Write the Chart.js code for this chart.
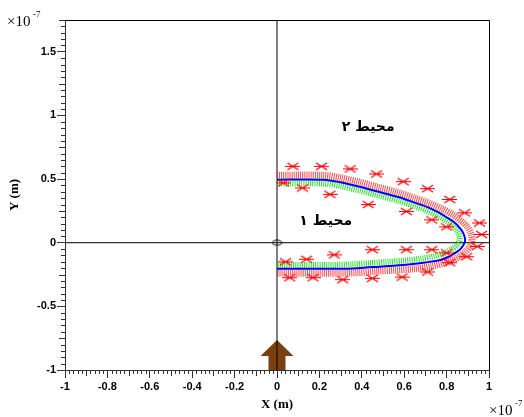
<!DOCTYPE html>
<html>
<head>
<meta charset="utf-8">
<script src="https://cdn.jsdelivr.net/npm/chart.js@4.4.1/dist/chart.umd.min.js"></script>
<style>
  html, body { margin: 0; padding: 0; background: #fff; }
</style>
</head>
<body>
<canvas id="chart" width="524" height="417"></canvas>
<script>
// axes
const xTicks = [-1, -0.8, -0.6, -0.4, -0.2, 0, 0.2, 0.4, 0.6, 0.8, 1];
const yTicks = [-1, -0.5, 0, 0.5, 1, 1.5];
const xRange = [-1, 1];
const yRange = [-1, 1.75];

// blue middle curve
const blueX = [0, 0.22, 0.30, 0.39, 0.48, 0.58, 0.65, 0.71, 0.76, 0.80, 0.84, 0.865, 0.88, 0.887, 0.885, 0.87, 0.85, 0.81, 0.77, 0.70, 0.63, 0.55, 0.47, 0.38, 0.30, 0];
const blueY = [0.495, 0.495, 0.475, 0.44, 0.40, 0.355, 0.315, 0.28, 0.24, 0.20, 0.155, 0.11, 0.07, 0.03, 0, -0.04, -0.07, -0.11, -0.135, -0.155, -0.17, -0.18, -0.19, -0.20, -0.205, -0.205];

// red hatched band (outside)
const redX = [0, 0.22, 0.30, 0.39, 0.48, 0.58, 0.65, 0.72, 0.78, 0.83, 0.87, 0.90, 0.915, 0.92, 0.91, 0.89, 0.85, 0.80, 0.73, 0.65, 0.56, 0.47, 0.38, 0.30, 0];
const redY = [0.53, 0.53, 0.51, 0.475, 0.435, 0.39, 0.35, 0.31, 0.265, 0.22, 0.17, 0.12, 0.07, 0.02, -0.03, -0.07, -0.12, -0.155, -0.185, -0.205, -0.215, -0.225, -0.235, -0.24, -0.24];

// green hatched band (inside)
const greenX = [0, 0.22, 0.30, 0.39, 0.48, 0.58, 0.65, 0.71, 0.76, 0.80, 0.83, 0.85, 0.86, 0.862, 0.85, 0.83, 0.79, 0.74, 0.68, 0.60, 0.52, 0.44, 0.35, 0.25, 0];
const greenY = [0.465, 0.465, 0.445, 0.41, 0.37, 0.325, 0.285, 0.25, 0.21, 0.17, 0.13, 0.09, 0.05, 0.02, -0.015, -0.045, -0.08, -0.105, -0.125, -0.14, -0.15, -0.16, -0.17, -0.175, -0.175];

// red star markers
const starX = [0.075, 0.21, 0.345, 0.47, 0.595, 0.71, 0.815, 0.885, 0.955, 0.965, 0.945, 0.895, 0.815, 0.71, 0.59, 0.45, 0.31, 0.17, 0.06,
               0.03, 0.12, 0.25, 0.43, 0.61, 0.73, 0.80,
               0.04, 0.14, 0.27, 0.45, 0.61, 0.73, 0.80];
const starY = [0.60, 0.60, 0.58, 0.54, 0.48, 0.425, 0.34, 0.235, 0.155, 0.065, -0.03, -0.11, -0.157, -0.23, -0.27, -0.28, -0.29, -0.275, -0.275,
               0.47, 0.43, 0.38, 0.30, 0.245, 0.18, 0.125,
               -0.15, -0.13, -0.095, -0.055, -0.055, -0.055, -0.08];

// origin marker, arrow, labels
const originPt = [0, 0];
const arrowX = 0;
const arrowY = [-1, -0.89, -0.765];
const notes = [
  { text: 'محیط ۲', x: 0.43, y: 0.91 },
  { text: 'محیط ۱', x: 0.23, y: 0.165 }
];

const pts = (xs, ys) => xs.map((x, i) => ({ x: x, y: ys[i] }));

// marker images
const starImg = document.createElement('canvas');
starImg.width = 15; starImg.height = 9;
(function () {
  const c = starImg.getContext('2d');
  c.strokeStyle = '#ff0000';
  c.lineWidth = 1.2;
  c.beginPath();
  c.moveTo(2, 1); c.lineTo(13, 8);
  c.moveTo(2, 8); c.lineTo(13, 1);
  c.moveTo(0, 4.5); c.lineTo(15, 4.5);
  c.stroke();
})();

const ovalImg = document.createElement('canvas');
ovalImg.width = 11; ovalImg.height = 7;
(function () {
  const c = ovalImg.getContext('2d');
  c.strokeStyle = '#000';
  c.lineWidth = 1;
  c.beginPath();
  c.ellipse(5.5, 3.5, 4.5, 2.5, 0, 0, Math.PI * 2);
  c.stroke();
})();

const decor = {
  id: 'decor',
  beforeDatasetsDraw(chart) {
    const { ctx, scales: { x, y } } = chart;
    // brown arrow
    const px = x.getPixelForValue(arrowX);
    const yb = y.getPixelForValue(arrowY[0]);
    const yh = y.getPixelForValue(arrowY[1]);
    const yt = y.getPixelForValue(arrowY[2]);
    ctx.save();
    ctx.fillStyle = '#7b4012';
    ctx.beginPath();
    ctx.moveTo(px - 8.5, yb);
    ctx.lineTo(px - 8.5, yh);
    ctx.lineTo(px - 16.5, yh);
    ctx.lineTo(px, yt);
    ctx.lineTo(px + 16.5, yh);
    ctx.lineTo(px + 8.5, yh);
    ctx.lineTo(px + 8.5, yb);
    ctx.closePath();
    ctx.fill();
    ctx.restore();
  },
  afterDraw(chart) {
    const { ctx, chartArea: a, scales: { x, y } } = chart;
    ctx.save();
    // box
    ctx.strokeStyle = '#000';
    ctx.lineWidth = 1;
    ctx.beginPath();
    ctx.moveTo(Math.round(a.left) + 0.5, Math.round(a.top) + 0.5);
    ctx.lineTo(Math.round(a.right) + 0.5, Math.round(a.top) + 0.5);
    ctx.lineTo(Math.round(a.right) + 0.5, Math.round(a.bottom) + 0.5);
    ctx.stroke();

    // minor ticks
    ctx.strokeStyle = '#333';
    ctx.beginPath();
    for (let i = -50; i <= 50; i++) {
      if (i % 10 === 0) continue;
      const len = i % 5 === 0 ? 6 : 4;
      const p = Math.round(x.getPixelForValue(i * 0.02)) + 0.5;
      ctx.moveTo(p, a.bottom);
      ctx.lineTo(p, a.bottom + len);
    }
    for (let i = -20; i <= 35; i++) {
      if (i % 10 === 0) continue;
      const len = i % 5 === 0 ? 6 : 4;
      const p = Math.round(y.getPixelForValue(i * 0.05)) + 0.5;
      ctx.moveTo(a.left, p);
      ctx.lineTo(a.left - len, p);
    }
    ctx.stroke();

    // exponent labels
    ctx.fillStyle = '#000';
    ctx.textBaseline = 'alphabetic';
    ctx.textAlign = 'left';
    ctx.font = '15px "Liberation Serif"';
    ctx.fillText('\u00d710', 7, 26);
    ctx.fillText('\u00d710', 489, 415);
    ctx.font = '9px "Liberation Serif"';
    ctx.fillText('-7', 33, 17);
    ctx.fillText('-7', 515, 406);

    // labels
    ctx.font = 'bold 14px "DejaVu Sans"';
    ctx.textAlign = 'center';
    ctx.textBaseline = 'middle';
    ctx.direction = 'rtl';
    notes.forEach(n => {
      ctx.fillText(n.text, x.getPixelForValue(n.x), y.getPixelForValue(n.y));
    });
    ctx.restore();
  }
};

const tickFont = { family: '"Liberation Sans", Arial, sans-serif', size: 11, weight: 'bold' };
const titleFont = { family: '"Liberation Serif", serif', size: 13, weight: 'bold' };

new Chart(document.getElementById('chart'), {
  type: 'scatter',
  data: {
    datasets: [
      {
        label: 'stars',
        data: pts(starX, starY),
        pointStyle: starImg,
        pointRadius: 6,
        showLine: false,
        order: 0
      },
      {
        label: 'blue',
        data: pts(blueX, blueY),
        showLine: true,
        borderColor: '#0000ff',
        borderWidth: 2,
        pointRadius: 0,
        tension: 0.3,
        order: 1
      },
      {
        label: 'green',
        data: pts(greenX, greenY),
        showLine: true,
        borderColor: 'rgba(0,225,0,0.85)',
        borderWidth: 6,
        borderDash: [1, 1.2],
        borderCapStyle: 'butt',
        pointRadius: 0,
        tension: 0.3,
        order: 2
      },
      {
        label: 'red',
        data: pts(redX, redY),
        showLine: true,
        borderColor: 'rgba(255,10,10,0.75)',
        borderWidth: 7,
        borderDash: [1, 1.1],
        borderCapStyle: 'butt',
        pointRadius: 0,
        tension: 0.3,
        order: 3
      },
      {
        label: 'origin',
        data: [{ x: originPt[0], y: originPt[1] }],
        pointStyle: ovalImg,
        pointRadius: 5,
        showLine: false,
        order: 4
      },
      {
        label: 'xaxis',
        data: [{ x: xRange[0], y: 0 }, { x: xRange[1], y: 0 }],
        showLine: true,
        borderColor: '#000',
        borderWidth: 1,
        pointRadius: 0,
        order: 5
      },
      {
        label: 'yaxis',
        data: [{ x: 0, y: yRange[0] }, { x: 0, y: yRange[1] }],
        showLine: true,
        borderColor: '#000',
        borderWidth: 1,
        pointRadius: 0,
        order: 5
      }
    ]
  },
  options: {
    responsive: false,
    animation: false,
    devicePixelRatio: 1,
    layout: { padding: { top: 20, right: 35, left: 0, bottom: 0 } },
    plugins: { legend: { display: false }, tooltip: { enabled: false } },
    scales: {
      x: {
        type: 'linear',
        min: xRange[0],
        max: xRange[1],
        afterBuildTicks: s => { s.ticks = xTicks.map(v => ({ value: v })); },
        afterFit: s => { s.height = 47; },
        ticks: { font: tickFont, color: '#000', padding: 2, maxRotation: 0, callback: v => String(v) },
        grid: { drawOnChartArea: false, tickLength: 8, color: '#333' },
        border: { color: '#333' },
        title: { display: true, text: 'X (m)', font: titleFont, color: '#000', padding: { top: 0, bottom: 5 } }
      },
      y: {
        type: 'linear',
        min: yRange[0],
        max: yRange[1],
        afterBuildTicks: s => { s.ticks = yTicks.map(v => ({ value: v })); },
        afterFit: s => { s.width = 65; },
        ticks: { font: tickFont, color: '#000', padding: 1, callback: v => String(v) },
        grid: { drawOnChartArea: false, tickLength: 8, color: '#333' },
        border: { color: '#333' },
        title: { display: true, text: 'Y (m)', font: titleFont, color: '#000', padding: { top: 7, bottom: 0 } }
      }
    }
  },
  plugins: [decor]
});
</script>
</body>
</html>
